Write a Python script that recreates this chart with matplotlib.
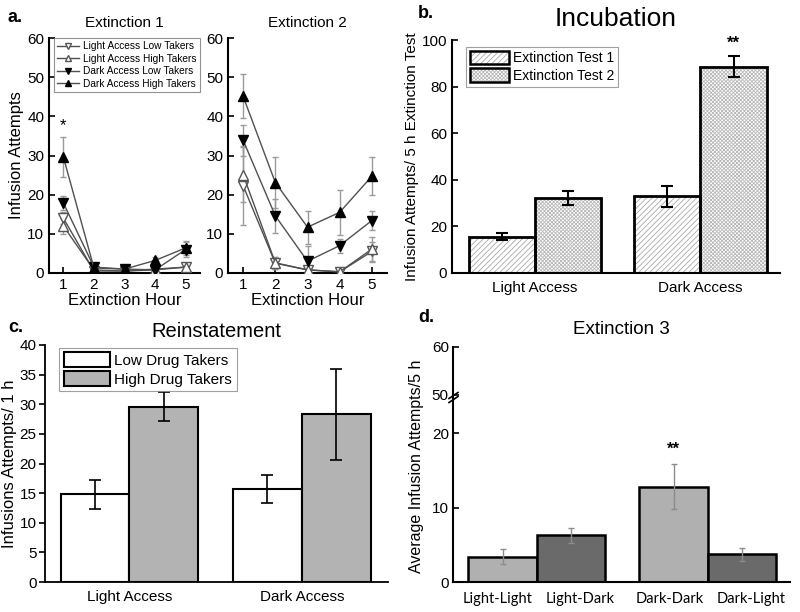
import matplotlib
matplotlib.use("Agg")
import matplotlib.pyplot as plt
import matplotlib.transforms as mtransforms
from matplotlib.patches import Patch
from matplotlib.legend_handler import HandlerTuple
import numpy as np

plt.rcParams['font.family'] = ['Liberation Sans', 'DejaVu Sans']
plt.rcParams['hatch.linewidth'] = 0.6

# ---------------- data ----------------
hours = [1, 2, 3, 4, 5]
series_names = ["Light Access Low Takers", "Light Access High Takers",
                "Dark Access Low Takers", "Dark Access High Takers"]
ext1_light_low = [14.0, 0.5, 0.5, 0.8, 1.5]
ext1_light_low_err = [1.5, 0.4, 0.3, 0.4, 0.6]
ext1_light_high = [12.0, 0.8, 0.5, 1.0, 1.5]
ext1_light_high_err = [2.0, 0.5, 0.3, 0.4, 0.6]
ext1_dark_low = [17.9, 1.5, 1.0, 0.8, 6.0]
ext1_dark_low_err = [1.8, 0.6, 0.5, 0.5, 2.0]
ext1_dark_high = [29.6, 1.3, 1.0, 3.2, 6.4]
ext1_dark_high_err = [5.0, 0.5, 0.5, 0.8, 1.8]

ext2_light_low = [22.3, 2.5, 0.8, 0.3, 5.5]
ext2_light_low_err = [10.0, 1.5, 0.6, 0.3, 2.5]
ext2_light_high = [25.1, 2.6, 0.8, 0.3, 6.1]
ext2_light_high_err = [7.0, 1.5, 0.6, 0.5, 3.2]
ext2_dark_low = [33.9, 14.6, 3.0, 7.0, 13.4]
ext2_dark_low_err = [4.0, 4.3, 4.0, 1.8, 2.4]
ext2_dark_high = [45.1, 23.1, 11.7, 15.5, 24.7]
ext2_dark_high_err = [5.6, 6.5, 4.2, 5.7, 4.9]

access_groups = ["Light Access", "Dark Access"]
incub_test1 = [15.5, 33.0]
incub_test1_err = [1.5, 4.5]
incub_test2 = [32.0, 88.5]
incub_test2_err = [3.0, 4.5]

reinst_low = [14.8, 15.7]
reinst_low_err = [2.4, 2.3]
reinst_high = [29.6, 28.3]
reinst_high_err = [2.4, 7.7]

ext3_labels = ["Light-Light", "Light-Dark", "Dark-Dark", "Dark-Light"]
ext3_values = [3.4, 6.3, 12.8, 3.7]
ext3_err = [1.0, 1.0, 3.0, 0.9]

# ---------------- figure ----------------
fig = plt.figure(figsize=(8.0, 6.12), dpi=100)

def px(l, r, t, b):
    W, H = 800.0, 612.0
    return [l / W, 1 - b / H, (r - l) / W, (b - t) / H]

def style_line_ax(ax):
    for s in ['top', 'right']:
        ax.spines[s].set_visible(False)
    for s in ['left', 'bottom']:
        ax.spines[s].set_linewidth(1.5)
    ax.tick_params(direction='in', length=4, width=1.2, labelsize=11)
    ax.set_ylim(0, 60)
    ax.set_yticks([0, 10, 20, 30, 40, 50, 60])
    ax.set_xlim(0.53, 5.47)
    ax.set_xticks(hours)

line_c = '#505050'
err_c = '#9a9a9a'
styles = [dict(marker='v', mfc='white', mec='#555555'),
          dict(marker='^', mfc='white', mec='#555555'),
          dict(marker='v', mfc='black', mec='black'),
          dict(marker='^', mfc='black', mec='black')]

a1 = fig.add_axes(px(49, 200, 38, 273))
a2 = fig.add_axes(px(228, 387, 38, 273))
ext1 = [(ext1_light_low, ext1_light_low_err), (ext1_light_high, ext1_light_high_err),
        (ext1_dark_low, ext1_dark_low_err), (ext1_dark_high, ext1_dark_high_err)]
ext2 = [(ext2_light_low, ext2_light_low_err), (ext2_light_high, ext2_light_high_err),
        (ext2_dark_low, ext2_dark_low_err), (ext2_dark_high, ext2_dark_high_err)]
for ax, data in [(a1, ext1), (a2, ext2)]:
    style_line_ax(ax)
    for (vals, errs), st, name in zip(data, styles, series_names):
        ax.errorbar(hours, vals, yerr=errs, fmt='none', ecolor=err_c,
                    elinewidth=1, capsize=2.5, zorder=2)
        ax.plot(hours, vals, color=line_c, lw=1, ms=6.5, label=name, zorder=3, **st)
    ax.set_xlabel("Extinction Hour", fontsize=12, labelpad=1)
a1.set_ylabel("Infusion Attempts", fontsize=12, labelpad=2)
a1.set_title("Extinction 1", fontsize=11, pad=8)
a2.set_title("Extinction 2", fontsize=11, pad=8)
a1.text(1, ext1_dark_high[0] + ext1_dark_high_err[0] + 1.0, "*", ha='center',
        va='bottom', fontsize=12)
h, l = a1.get_legend_handles_labels()
leg = a1.legend(h, l, loc='upper left', bbox_to_anchor=(0.0, 1.02), fontsize=7.3,
                frameon=True, fancybox=False, edgecolor='#777777', markerscale=0.6,
                handlelength=2.2, handletextpad=0.4, borderpad=0.3, labelspacing=0.25)
leg.get_frame().set_linewidth(0.8)

# ---- panel b ----
b = fig.add_axes(px(452, 780, 40, 273))
xg = np.arange(len(access_groups))
w = 0.4
hatch1, hatch2 = '//////', 'xxxxxxxxx'
hcol1, hcol2 = '#a8a8a8', '#b8b8b8'
b.bar(xg - w / 2, incub_test1, w, color='white', edgecolor=hcol1, hatch=hatch1,
      lw=0, zorder=1)
b.bar(xg + w / 2, incub_test2, w, color='white', edgecolor=hcol2, hatch=hatch2,
      lw=0, zorder=1)
b.bar(xg - w / 2, incub_test1, w, fill=False, edgecolor='black', lw=2, zorder=2)
b.bar(xg + w / 2, incub_test2, w, fill=False, edgecolor='black', lw=2, zorder=2)
b.errorbar(xg - w / 2, incub_test1, yerr=incub_test1_err, fmt='none', ecolor='black',
           elinewidth=1.5, capsize=4, capthick=1.5, zorder=3)
b.errorbar(xg + w / 2, incub_test2, yerr=incub_test2_err, fmt='none', ecolor='black',
           elinewidth=1.5, capsize=4, capthick=1.5, zorder=3)
for s in ['top', 'right']:
    b.spines[s].set_visible(False)
for s in ['left', 'bottom']:
    b.spines[s].set_linewidth(1.5)
b.set_xlim(-0.5, 1.48)
b.set_ylim(0, 100)
b.set_yticks([0, 20, 40, 60, 80, 100])
b.set_xticks(xg)
b.set_xticklabels(access_groups)
b.tick_params(axis='y', direction='in', length=4, width=1.2, labelsize=11)
b.tick_params(axis='x', length=0, labelsize=11, pad=6)
b.set_ylabel("Infusion Attempts/ 5 h Extinction Test", fontsize=11, labelpad=2)
b.set_title("Incubation", fontsize=19, pad=10)
b.text(1 + w / 2, incub_test2[1] + incub_test2_err[1] + 2.5, "**", ha='center',
       va='bottom', fontsize=12, fontweight='bold')
hb = [(Patch(facecolor='white', edgecolor=hcol1, hatch=hatch1, lw=0),
       Patch(fill=False, edgecolor='black', lw=1.8)),
      (Patch(facecolor='white', edgecolor=hcol2, hatch=hatch2, lw=0),
       Patch(fill=False, edgecolor='black', lw=1.8))]
legb = b.legend(hb, ["Extinction Test 1", "Extinction Test 2"], loc='upper left',
                bbox_to_anchor=(0.02, 1.0), fontsize=10, frameon=True, fancybox=False,
                edgecolor='#888888', handlelength=2.8, handleheight=1.1,
                handletextpad=0.3, borderpad=0.3, labelspacing=0.2,
                handler_map={tuple: HandlerTuple(ndivide=1, pad=0)})
legb.get_frame().set_linewidth(0.8)

# ---- panel c ----
c = fig.add_axes(px(45, 388, 345, 582))
c.bar(xg - w / 2, reinst_low, w, color='white', edgecolor='black', lw=1.5,
      label="Low Drug Takers", zorder=2)
c.bar(xg + w / 2, reinst_high, w, color='#b3b3b3', edgecolor='black', lw=1.5,
      label="High Drug Takers", zorder=2)
c.errorbar(xg - w / 2, reinst_low, yerr=reinst_low_err, fmt='none', ecolor='black',
           elinewidth=1.2, capsize=4, capthick=1.2, zorder=3)
c.errorbar(xg + w / 2, reinst_high, yerr=reinst_high_err, fmt='none', ecolor='black',
           elinewidth=1.2, capsize=4, capthick=1.2, zorder=3)
for s in ['top', 'right']:
    c.spines[s].set_visible(False)
for s in ['left', 'bottom']:
    c.spines[s].set_linewidth(1.3)
c.set_xlim(-0.49, 1.5)
c.set_ylim(0, 40)
c.set_yticks(np.arange(0, 41, 5))
c.set_xticks(xg)
c.set_xticklabels(access_groups)
c.tick_params(axis='y', direction='out', length=4, width=1.2, labelsize=11, pad=2)
c.tick_params(axis='x', length=0, labelsize=11, pad=6)
c.set_ylabel("Infusions Attempts/ 1 h", fontsize=12, labelpad=2)
c.set_title("Reinstatement", fontsize=14.5, pad=6)
legc = c.legend(loc='upper left', bbox_to_anchor=(0.02, 1.02), fontsize=11, frameon=True,
                fancybox=False, edgecolor='#888888', handlelength=3.0, handleheight=1.1,
                handletextpad=0.3, borderpad=0.3, labelspacing=0.2)
legc.get_frame().set_linewidth(0.8)

# ---- panel d (broken axis) ----
d = fig.add_axes(px(453, 790, 396, 582))
dt = fig.add_axes(px(453, 790, 347, 395))
xd = np.array([xg[0] - w / 2, xg[0] + w / 2, xg[1] - w / 2, xg[1] + w / 2])
d_colors = ['#b0b0b0', '#6a6a6a', '#b0b0b0', '#6a6a6a']
d.bar(xd, ext3_values, w, color=d_colors, edgecolor='black', lw=1.8, zorder=2)
d.errorbar(xd, ext3_values, yerr=ext3_err, fmt='none', ecolor='#8c8c8c',
           elinewidth=1.0, capsize=2.5, capthick=1.0, zorder=3)
d.set_xlim(-0.49, 1.48)
d.set_ylim(0, 25)
d.set_yticks([0, 10, 20])
d.set_xticks(xd)
d.set_xticklabels(ext3_labels, fontfamily='Lato', fontsize=10.5)
d.tick_params(axis='x', length=0, pad=7)
label_shift = [-5, 9, -4, 9]
for lab, dx in zip(d.get_xticklabels(), label_shift):
    lab.set_transform(lab.get_transform() +
                      mtransforms.ScaledTranslation(dx / 100.0, 0, fig.dpi_scale_trans))
d.tick_params(axis='y', direction='in', length=4, width=1.2, labelsize=11, pad=3)
for s in ['top', 'right']:
    d.spines[s].set_visible(False)
for s in ['left', 'bottom']:
    d.spines[s].set_linewidth(1.5)
d.set_ylabel("Average Infusion Attempts/5 h", fontsize=11.5, labelpad=4)
d.yaxis.set_label_coords(-0.085, 0.62)
d.text(xd[2], ext3_values[2] + ext3_err[2] + 1.0, "**", ha='center', va='bottom',
       fontsize=12, fontweight='bold')

dt.set_xlim(-0.49, 1.48)
dt.set_ylim(50, 60)
dt.set_yticks([50, 60])
dt.set_xticks([])
for s in ['top', 'right', 'bottom']:
    dt.spines[s].set_visible(False)
dt.spines['left'].set_linewidth(1.5)
dt.tick_params(axis='y', direction='in', length=4, width=1.2, labelsize=11, pad=3)
dt.patch.set_alpha(0)
dt.set_title("Extinction 3", fontsize=13.5, pad=9)
# break marks
kw = dict(color='black', lw=1.2, clip_on=False, transform=fig.transFigure)
for yy in [395.5, 399.5]:
    x0, y0 = 449 / 800, 1 - (yy + 3) / 612
    x1, y1 = 458 / 800, 1 - (yy - 3) / 612
    fig.add_artist(plt.Line2D([x0, x1], [y0, y1], **kw))

# panel letters
for txt, xx, yy in [("a.", 8, 17), ("b.", 418, 14), ("c.", 8, 328), ("d.", 418, 318)]:
    fig.text(xx / 800, 1 - yy / 612, txt, fontsize=13, fontweight='bold',
             ha='left', va='center')

fig.savefig("out.png", dpi=100)
